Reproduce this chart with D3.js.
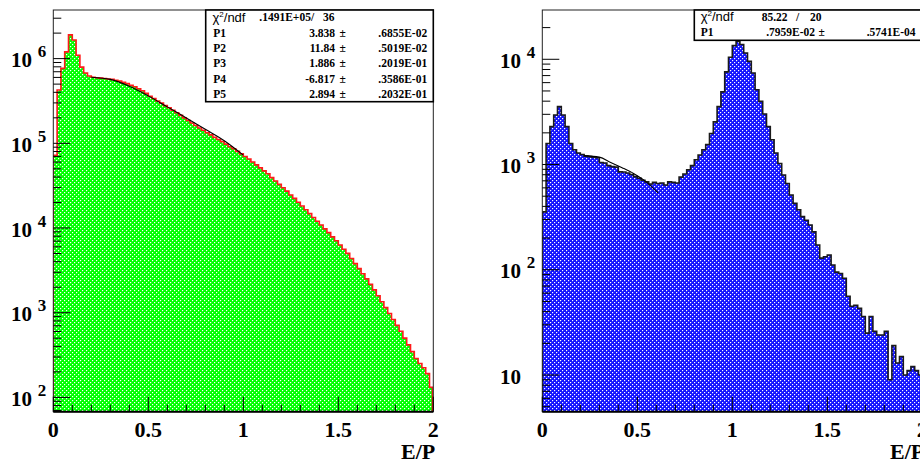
<!DOCTYPE html>
<html><head><meta charset="utf-8">
<script src="https://cdn.jsdelivr.net/npm/d3@7"></script>
<style>body{margin:0;background:#fff}svg{display:block}</style>
</head><body>
<svg id="c" width="920" height="463"></svg>
<script>
// ---------------- data ----------------
const nBins = 100;
const xRange = [0, 2];
const leftCounts = [72400,426580,767360,1202264,1905461,1659587,1096478,794328,676083,623735,
 602560,595662,588844,582103,575440,568853,555904,543250,524807,506991,
 484172,465586,441570,416869,389045,358922,338844,316228,298538,278612,
 263027,245471,229087,213796,199526,186209,173780,162181,151356,142889,
 133352,125893,117490,110917,104713,97724,91201,86099,80353,74989,
 69984,65313,60256,55590,51286,47315,43652,39355,35892,32734,
 29854,27227,24547,22387,20184,18197,16406,14791,13335,12023,
 10839,9772,8810,7852,7079,6310,5623,5012,4365,3802,
 3311,2884,2512,2163,1862,1585,1349,1148,977,832,
 708,603,501,417,347,288,251,224,191,132];
const rightCounts = [355,1585,2291,2951,3548,2951,2291,1585,1380,1288,
 1245,1202,1189,1175,1161,1047,1035,977,955,944,
 851,848,832,804,767,741,708,684,653,676,
 661,668,638,684,676,668,759,813,891,977,
 1109,1230,1380,1549,1972,2541,3548,4898,7586,10471,
 13490,14791,13804,11482,9550,7413,5129,3981,3020,2291,
 1718,1288,1023,794,661,513,427,372,320,295,
 266,229,172,129,133,138,111,95,92,83,
 56,45,46,43,36,25,36,26,24,24,
 26,9,19,13,15,10,11,12,11,10];
const leftFitX = [0.2,0.3,0.4,0.5,0.6,0.7,0.8,0.9,1.0];
const leftFitY = [602560,568853,473151,363078,269153,199526,146218,107152,72444];
const rightFitX = [0.22,0.30,0.36,0.42,0.48,0.54,0.61];
const rightFitY = [1216,1175,1047,933,822,700,537];
const xTickLabels = ["0","0.5","1","1.5","2"];
const xTitle = "E/P";
const leftStats = [["P1","3.838",".6855E-02"],["P2","11.84",".5019E-02"],["P3","1.886",".2019E-01"],["P4","-6.817",".3586E-01"],["P5","2.894",".2032E-01"]];
const leftChi = [".1491E+05/","36"];
const rightStats = [["P1",".7959E-02",".5741E-04"]];
const rightChi = ["85.22","/","20"];

// ---------------- drawing ----------------
const svg = d3.select("#c");
const serif = "'Liberation Serif', 'Times New Roman', serif";
const sans = "'Liberation Sans', Arial, sans-serif";
const defs = svg.append("defs");
function hatch(id, col){
  const p = defs.append("pattern").attr("id", id).attr("patternUnits","userSpaceOnUse")
    .attr("width",4).attr("height",4);
  p.append("rect").attr("width",4).attr("height",4).attr("fill",col);
  [[0,0],[2,2]].forEach(([a,b])=>p.append("rect").attr("x",a).attr("y",b).attr("width",1).attr("height",1).attr("fill","#fff"));
  [[1,0],[0,1],[3,2],[2,3]].forEach(([a,b])=>p.append("rect").attr("x",a).attr("y",b).attr("width",1).attr("height",1).attr("fill","#fff").attr("opacity",0.2));
}
hatch("hg","#00ff00");
hatch("hb","#1414ff");

function panel(cfg){
  const g = svg.append("g");
  const x = d3.scaleLinear().domain(xRange).range([cfg.x0, cfg.x1]);
  const y = d3.scaleLog().domain(cfg.yDom).range([411.7, 10]).clamp(true);
  const clipId = cfg.id + "clip";
  defs.append("clipPath").attr("id", clipId).append("rect")
    .attr("x", cfg.x0).attr("y", 10).attr("width", cfg.x1 - cfg.x0).attr("height", 401.7);
  const bw = (xRange[1]-xRange[0]) / nBins;
  const pts = cfg.counts.map((v,i)=>[xRange[0]+i*bw, v]);
  pts.push([xRange[1], cfg.counts[cfg.counts.length-1]]);
  const hg = g.append("g").attr("clip-path", `url(#${clipId})`);
  const area = d3.area().curve(d3.curveStepAfter).x(d=>x(d[0])).y0(411.7).y1(d=>y(d[1]));
  hg.append("path").datum(pts).attr("d", area).attr("fill", `url(#${cfg.pat})`);
  const line = d3.line().curve(d3.curveStepAfter).x(d=>x(d[0])).y(d=>y(d[1]));
  hg.append("path").datum(pts).attr("d", line).attr("fill","none")
    .attr("stroke", cfg.outline).attr("stroke-width", cfg.ow);
  hg.append("line").attr("x1",x(xRange[0])).attr("x2",x(xRange[0])).attr("y1",411.7).attr("y2",y(cfg.counts[0]))
    .attr("stroke",cfg.outline).attr("stroke-width",cfg.ow);
  hg.append("line").attr("x1",x(xRange[1])-0.8).attr("x2",x(xRange[1])-0.8).attr("y1",411.7).attr("y2",y(cfg.counts[nBins-1]))
    .attr("stroke",cfg.outline).attr("stroke-width",cfg.ow);
  const fl = d3.line().curve(d3.curveMonotoneX).x(d=>x(d[0])).y(d=>y(d[1]));
  hg.append("path").datum(cfg.fitX.map((v,i)=>[v, cfg.fitY[i]])).attr("d", fl)
    .attr("fill","none").attr("stroke","#000").attr("stroke-width",1.1);

  g.append("rect").attr("x",cfg.x0).attr("y",10).attr("width",cfg.x1-cfg.x0).attr("height",401.7)
    .attr("fill","none").attr("stroke","#222").attr("stroke-width",1);
  g.append("line").attr("x1",cfg.x0).attr("x2",cfg.x1).attr("y1",411.7).attr("y2",411.7)
    .attr("stroke","#000").attr("stroke-width",2);

  x.ticks(20).forEach(t=>{
    const major = Math.abs(t*2 - Math.round(t*2)) < 1e-6;
    g.append("line").attr("x1",x(t)).attr("x2",x(t)).attr("y1",411.7).attr("y2",411.7-(major?15:7))
      .attr("stroke","#000").attr("stroke-width",1);
  });
  d3.range(xTickLabels.length).forEach(i=>{
    const t = xRange[0] + i*0.5;
    g.append("text").attr("x",x(t)).attr("y",437).attr("text-anchor","middle")
      .style("font-family",serif).style("font-weight","bold").style("font-size","22px").text(xTickLabels[i]);
  });
  g.append("text").attr("x",cfg.x1+2).attr("y",459).attr("text-anchor","end")
    .style("font-family",serif).style("font-weight","bold").style("font-size","22px").text(xTitle);

  y.ticks().forEach(t=>{
    const lg = Math.log10(t);
    const major = Math.abs(lg - Math.round(lg)) < 1e-6;
    const yy = y(t);
    if (yy < 10 || yy > 411.7) return;
    g.append("line").attr("x1",cfg.x0).attr("x2",cfg.x0+(major?17:8)).attr("y1",yy).attr("y2",yy)
      .attr("stroke","#000").attr("stroke-width",1);
    if (major){
      const e = Math.round(lg);
      g.append("text").attr("x",cfg.x0-21.3).attr("y",yy+8.6).attr("text-anchor","end")
        .style("font-family",serif).style("font-weight","bold").style("font-size","21px").text("10");
      if (e !== 1) g.append("text").attr("x",cfg.x0-15.5).attr("y",yy-1.3)
        .style("font-family",serif).style("font-weight","bold").style("font-size","17px").text(String(e));
    }
  });
  return g;
}

panel({id:"L", x0:53.3, x1:433.3, yDom:[67.8, 3.75e6], counts:leftCounts, pat:"hg",
  outline:"#ff1a1a", ow:1.6, fitX:leftFitX, fitY:leftFitY});
panel({id:"R", x0:542.3, x1:922.3, yDom:[4.48, 29400], counts:rightCounts, pat:"hb",
  outline:"#1a1a1a", ow:1.6, fitX:rightFitX, fitY:rightFitY});

function chi(g, x, yb){
  const t = g.append("text").attr("x",x).attr("y",yb).style("font-family",sans).style("font-size","13px");
  t.append("tspan").text("χ");
  t.append("tspan").style("font-size","8px").attr("dy",-5).text("2");
  t.append("tspan").attr("dy",5).text("/ndf");
}
function bt(g, x, y, s, anchor){
  g.append("text").attr("x",x).attr("y",y).attr("text-anchor",anchor||"start")
    .style("font-family",serif).style("font-weight","bold").style("font-size","11.5px").text(s);
}
const sl = svg.append("g");
sl.append("rect").attr("x",205.7).attr("y",10).attr("width",227.6).attr("height",91.7)
  .attr("fill","#fff").attr("stroke","#000").attr("stroke-width",1.6);
chi(sl, 212.5, 21.5);
bt(sl, 259.3, 21, leftChi[0]); bt(sl, 323, 21, leftChi[1]);
leftStats.forEach((r,i)=>{
  const yb = 36.5 + i*15.4;
  bt(sl, 213.3, yb, r[0]);
  bt(sl, 335, yb, r[1], "end");
  bt(sl, 339.5, yb, "±");
  bt(sl, 378.3, yb, r[2]);
});
const sr = svg.append("g");
sr.append("rect").attr("x",694.3).attr("y",10).attr("width",240).attr("height",30.3)
  .attr("fill","#fff").attr("stroke","#000").attr("stroke-width",1.6);
chi(sr, 700.7, 21);
bt(sr, 761.7, 20.5, rightChi[0]); bt(sr, 796, 20.5, rightChi[1]); bt(sr, 810, 20.5, rightChi[2]);
rightStats.forEach((r,i)=>{
  const yb = 35.5 + i*15.4;
  bt(sr, 700.7, yb, r[0]);
  bt(sr, 815, yb, r[1], "end");
  bt(sr, 818.5, yb, "±");
  bt(sr, 866.7, yb, r[2]);
});
</script>
</body></html>
